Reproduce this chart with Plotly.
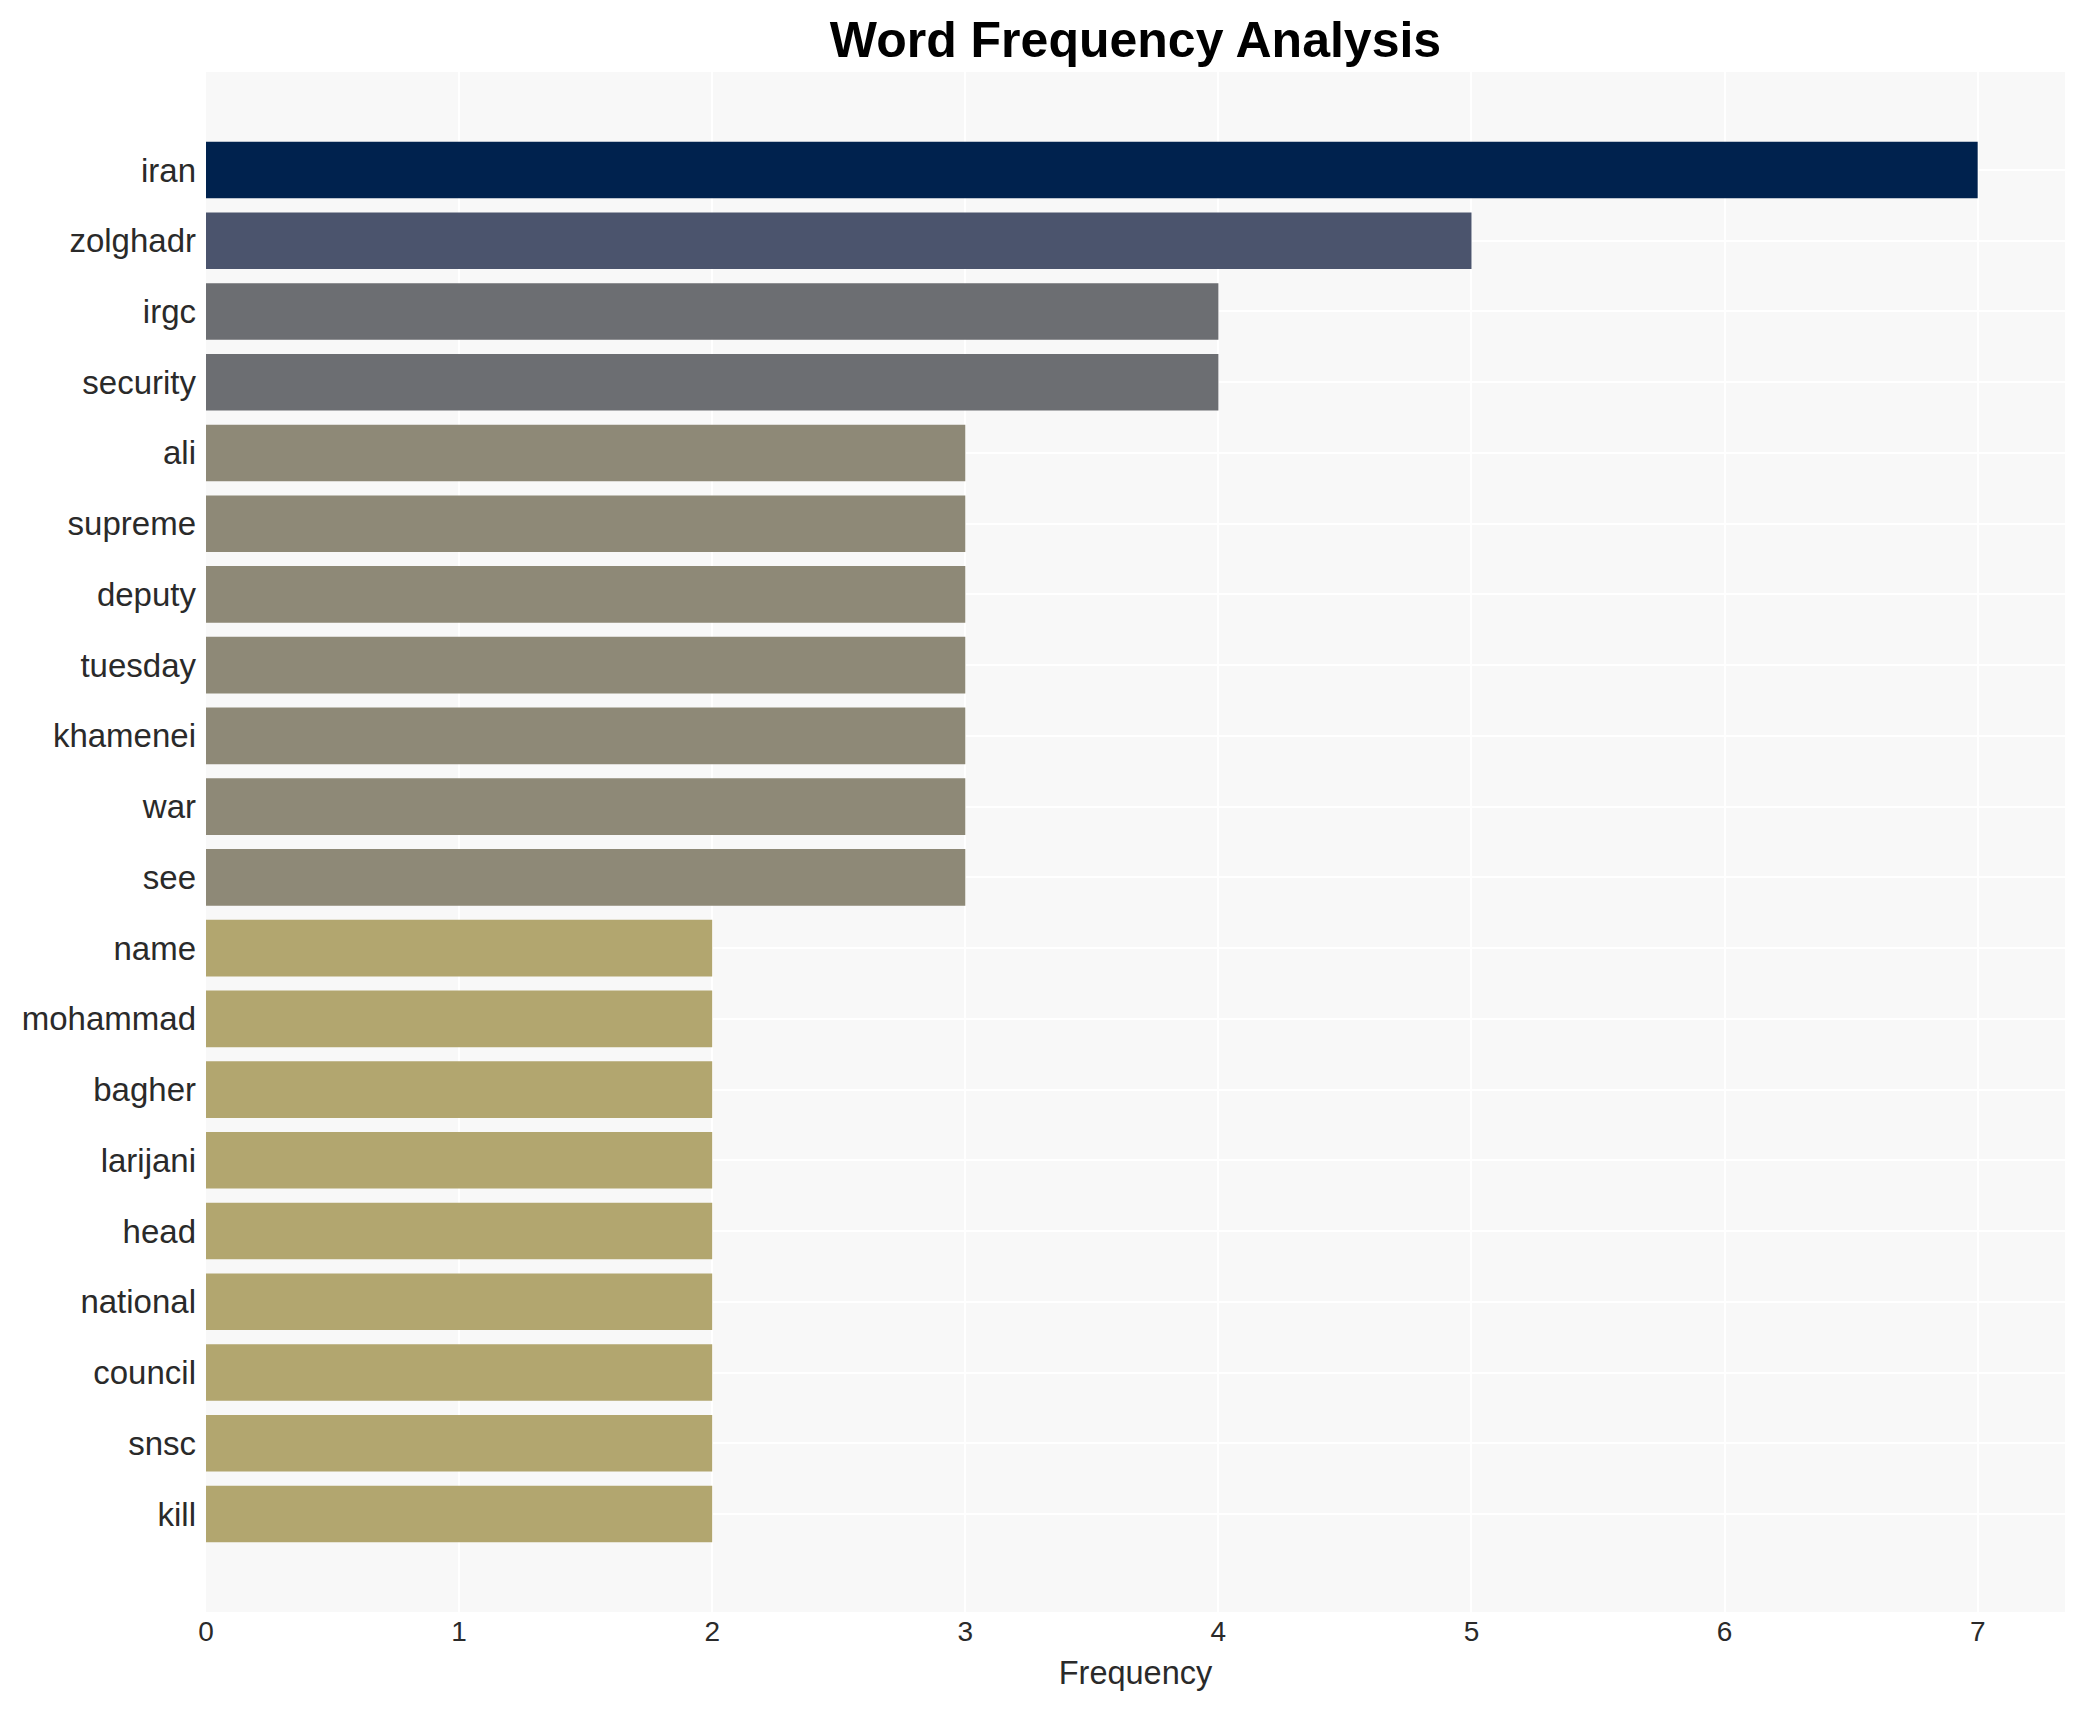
import plotly.graph_objects as go

words = ["iran", "zolghadr", "irgc", "security", "ali", "supreme", "deputy",
         "tuesday", "khamenei", "war", "see", "name", "mohammad", "bagher",
         "larijani", "head", "national", "council", "snsc", "kill"]
counts = [7, 5, 4, 4, 3, 3, 3, 3, 3, 3, 3, 2, 2, 2, 2, 2, 2, 2, 2, 2]
x_ticks = [0, 1, 2, 3, 4, 5, 6, 7]

FONT = "Liberation Sans, Arial, sans-serif"

W, H = 2069, 1694
ML, MR, MT, MB = 198, 12, 64, 90

fig = go.Figure(
    go.Bar(
        x=counts,
        y=words,
        orientation="h",
        marker=dict(
            color=counts,
            colorscale="cividis",
            reversescale=True,
            cmin=0,
            cmax=max(counts),
            showscale=False,
            line=dict(width=0),
        ),
    )
)

n = len(words)
pad = 1.385
fig.update_layout(
    width=W,
    height=H,
    margin=dict(l=ML, r=MR, t=MT, b=MB, autoexpand=False),
    paper_bgcolor="white",
    plot_bgcolor="#f8f8f8",
    bargap=0.2,
    font=dict(family=FONT, color="#2a2a2a"),
    title=dict(
        text="<b>Word Frequency Analysis</b>",
        font=dict(family=FONT, size=50, color="black"),
        x=(ML + (W - MR)) / 2 / W,
        xanchor="center",
        y=1 - 31 / H,
        yanchor="middle",
    ),
    xaxis=dict(
        title=dict(text="Frequency", font=dict(size=32.5, color="#2a2a2a")),
        range=[0, 7.345],
        tickmode="array",
        tickvals=x_ticks,
        ticktext=[str(t) for t in x_ticks],
        tickfont=dict(size=28, color="#2a2a2a"),
        gridcolor="white",
        gridwidth=2,
        zeroline=False,
        showline=False,
        automargin=False,
    ),
    yaxis=dict(
        categoryorder="array",
        categoryarray=words,
        range=[n - 1 + pad, -pad],
        tickfont=dict(size=33, color="#2a2a2a"),
        ticklabelstandoff=9,
        gridcolor="white",
        gridwidth=2,
        zeroline=False,
        showline=False,
        automargin=False,
    ),
)

fig.write_html("out.html")
